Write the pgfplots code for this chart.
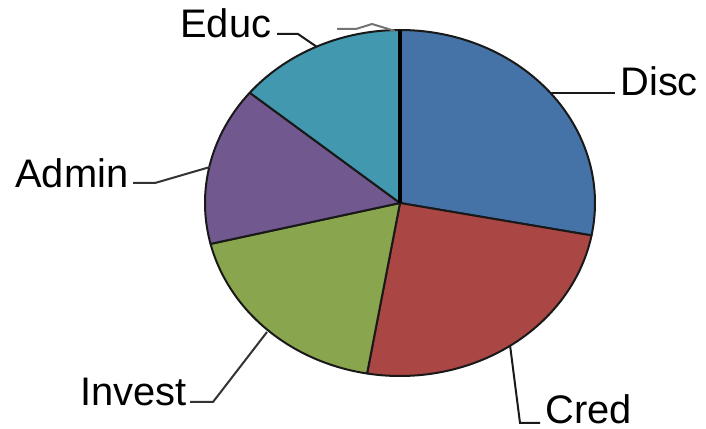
\documentclass[border=0pt]{standalone}
\usepackage{pgfplots}
\pgfplotsset{compat=1.18}
\usepackage{fontspec}
\setmainfont{Liberation Sans}
\definecolor{cDisc}{HTML}{4572A7}
\definecolor{cCred}{HTML}{AA4643}
\definecolor{cInvest}{HTML}{89A54E}
\definecolor{cAdmin}{HTML}{71588F}
\definecolor{cEduc}{HTML}{4198AF}
% slice values (percent)
\def\vDisc{28.0}
\def\vCred{24.7}
\def\vInvest{18.5}
\def\vAdmin{14.8}
\def\vEduc{14.0}
\begin{document}
\begin{tikzpicture}
\pgfmathsetmacro{\aA}{90}
\pgfmathsetmacro{\aB}{\aA-3.6*\vDisc}
\pgfmathsetmacro{\aC}{\aB-3.6*\vCred}
\pgfmathsetmacro{\aD}{\aC-3.6*\vInvest}
\pgfmathsetmacro{\aE}{\aD-3.6*\vAdmin}
\pgfmathsetmacro{\aF}{\aE-3.6*\vEduc}
\begin{axis}[
  width=353bp, height=214.5bp, scale only axis,
  xmin=0, xmax=706, ymin=0, ymax=429,
  hide axis, clip=false,
]
\path (rel axis cs:0,0) rectangle (rel axis cs:1,1);
\pgfplotsset{slice/.style={draw=black!90, line width=1bp, samples=80, variable=\t, line join=round}}
\addplot[slice, fill=cDisc, domain=\aB:\aA] ({400+195*cos(\t)},{226+173*sin(\t)}) -- (400,226) -- cycle;
\addplot[slice, fill=cCred, domain=\aC:\aB] ({400+195*cos(\t)},{226+173*sin(\t)}) -- (400,226) -- cycle;
\addplot[slice, fill=cInvest, domain=\aD:\aC] ({400+195*cos(\t)},{226+173*sin(\t)}) -- (400,226) -- cycle;
\addplot[slice, fill=cAdmin, domain=\aE:\aD] ({400+195*cos(\t)},{226+173*sin(\t)}) -- (400,226) -- cycle;
\addplot[slice, fill=cEduc, domain=\aF:\aE] ({400+195*cos(\t)},{226+173*sin(\t)}) -- (400,226) -- cycle;
% near-zero slice edge
\addplot[black, line width=1.8bp] coordinates {(400,226) (400,399)};
% connectors
\addplot[black!90, line width=1bp] coordinates {(550,336) (615,336)};
\addplot[black!90, line width=1bp] coordinates {(510,84) (520,6) (540,6)};
\addplot[black!80, line width=1bp] coordinates {(267,97) (213,27) (190,27)};
\addplot[black!80, line width=1bp] coordinates {(210,262) (155,246) (133,246)};
\addplot[black!90, line width=1bp] coordinates {(317,382) (298,395) (277,395)};
\addplot[black!55, line width=1bp] coordinates {(337,400) (356,400) (372,405) (395,398)};
% labels
\begin{scope}[every node/.style={inner sep=0pt, anchor=base west, font=\fontsize{20}{24}\selectfont}]
\node at (620,333) {Disc};
\node at (545,6) {Cred};
\node at (80,24) {Invest};
\node at (15,241) {Admin};
\node at (180,391) {Educ};
\end{scope}
\end{axis}
\end{tikzpicture}
\end{document}
